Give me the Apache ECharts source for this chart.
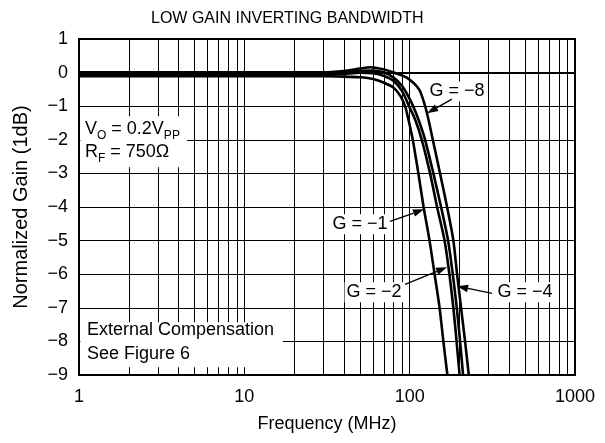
<!DOCTYPE html>
<html><head><meta charset="utf-8">
<script src="https://cdn.jsdelivr.net/npm/echarts@6/dist/echarts.min.js"></script>
<style>html,body{margin:0;padding:0;background:#fff}#c{width:605px;height:443px}</style>
</head><body><div id="c"></div>
<script>
const FONT = '"Liberation Sans", Arial, Helvetica, sans-serif';

// ---- axis ticks ----
const xTicks = [1, 10, 100, 1000];
const yTicks = [-9, -8, -7, -6, -5, -4, -3, -2, -1, 0, 1];
const minorGridFreqs = [2,3,4,5,6,7,8,9,20,30,40,50,60,70,80,90,200,300,400,500,600,700,800,900];

// ---- series data (frequency in MHz, normalized gain in dB) ----
const g1Freq = [1, 10, 30, 40, 50, 60, 70, 80, 88, 93.8, 98.2, 104.4, 112.9, 121.4, 131.9, 141.5, 151.7, 159.9, 169.1];
const g1Gain = [-0.11, -0.11, -0.11, -0.12, -0.14, -0.19, -0.3, -0.45, -0.7, -1.0, -1.39, -2, -3, -4, -5, -6, -7, -8, -9];

const g2Freq = [1, 10, 30, 40, 50, 60, 70, 80, 90, 99.2, 107.8, 118.4, 132.9, 146.5, 162.6, 173.9, 183.8, 192.2, 200.4];
const g2Gain = [-0.07, -0.07, -0.07, -0.04, 0.0, -0.02, -0.1, -0.25, -0.55, -1.0, -1.39, -2, -3, -4, -5, -6, -7, -8, -9];

const g4Freq = [1, 10, 30, 40, 50, 60, 70, 80, 90, 98, 105, 112.9, 124.0, 139.1, 154.9, 170.8, 182.3, 192.7, 201.8, 210.4];
const g4Gain = [-0.03, -0.03, -0.03, 0.0, 0.05, 0.06, 0.0, -0.15, -0.4, -0.7, -1.0, -1.39, -2, -3, -4, -5, -6, -7, -8, -9];

const g8Freq = [1, 10, 30, 40, 50, 58, 69, 80, 96, 114, 124, 129.8, 138.0, 152.7, 168.4, 183.8, 193.5, 204.6, 216.3, 227.8];
const g8Gain = [0.01, 0.01, 0.01, 0.05, 0.12, 0.16, 0.1, 0.0, -0.15, -0.5, -1.0, -1.39, -2, -3, -4, -5, -6, -7, -8, -9];

// ---- annotations (data coordinates) ----
const gLabels    = ['G = −8', 'G = −1', 'G = −2', 'G = −4'];
const gLabelAt   = [[193.6, -0.56], [50.1, -4.51], [60.9, -6.54], [499, -6.54]];
const gArrowFrom = [[180, -0.79], [76.1, -4.43], [93.8, -6.30], [315, -6.57]];
const gArrowTo   = [[127.4, -1.21], [122.2, -4.07], [168.3, -5.79], [193.6, -6.36]];

const noteBoxes = [ [[1.02, -1.30], [4.51, -2.82]], [[1.02, -7.43], [17.1, -8.77]] ];
const noteTexts = [
  {at: [1.087, -1.69], text: '{m|V}{s|O}{m| = 0.2V}{s|PP}'},
  {at: [1.087, -2.375], text: '{m|R}{s|F}{m| = 750Ω}'},
  {at: [1.118, -7.67], text: '{m|External Compensation}'},
  {at: [1.118, -8.39], text: '{m|See Figure 6}'}
];

const zip = (a, b) => a.map((v, i) => [v, b[i]]);
const curveStyle = {color: '#000', width: 2.6};
function curve(name, f, g) {
  return {name, type: 'line', data: zip(f, g), showSymbol: false, smooth: 0.25,
          lineStyle: curveStyle, itemStyle: {color: '#000'}, z: 3};
}

const series = [
  curve('G = −1', g1Freq, g1Gain),
  curve('G = −2', g2Freq, g2Gain),
  curve('G = −4', g4Freq, g4Gain),
  curve('G = −8', g8Freq, g8Gain)
];
series.push({
  type: 'line', data: [], silent: true,
  markLine: {silent: true, symbol: ['none', 'none'], label: {show: false},
    lineStyle: {color: '#000', width: 1, type: 'solid'},
    data: minorGridFreqs.map(v => ({xAxis: v}))}
});

const option = {
  animation: false,
  backgroundColor: '#fff',
  textStyle: {fontFamily: FONT},
  title: {text: 'LOW GAIN INVERTING BANDWIDTH', left: 146, top: 6,
    textStyle: {fontSize: 16, fontWeight: 'normal', color: '#000', fontFamily: FONT}},
  grid: {left: 79, right: 30, top: 39, bottom: 68, show: true, borderColor: '#000', borderWidth: 2},
  xAxis: {type: 'log', logBase: 10, min: xTicks[0], max: xTicks[xTicks.length - 1],
    name: 'Frequency (MHz)', nameLocation: 'middle', nameGap: 40,
    nameTextStyle: {fontSize: 18, color: '#000', fontFamily: FONT},
    axisLine: {show: true, lineStyle: {color: '#000', width: 2}},
    axisTick: {show: false},
    axisLabel: {fontSize: 18, color: '#000', margin: 13, fontFamily: FONT, formatter: v => String(v)},
    splitLine: {show: true, lineStyle: {color: '#000', width: 1}}},
  yAxis: {type: 'value', min: yTicks[0], max: yTicks[yTicks.length - 1], interval: 1,
    name: 'Normalized Gain (1dB)', nameLocation: 'middle', nameGap: 48,
    nameTextStyle: {fontSize: 20, color: '#000', fontFamily: FONT},
    axisLine: {show: true, lineStyle: {color: '#000', width: 2}},
    axisTick: {show: false},
    axisLabel: {fontSize: 18, color: '#000', margin: 11, fontFamily: FONT,
      formatter: v => v < 0 ? '−' + Math.abs(v) : String(v)},
    splitLine: {show: true, lineStyle: {color: '#000', width: 1}}},
  series
};

const chart = echarts.init(document.getElementById('c'));
chart.setOption(option);

const px = p => chart.convertToPixel({gridIndex: 0}, p);
const els = [];
noteBoxes.forEach(b => {
  const a = px(b[0]), c = px(b[1]);
  els.push({type: 'rect', z: 50, silent: true,
    shape: {x: a[0], y: a[1], width: c[0] - a[0], height: c[1] - a[1]}, style: {fill: '#fff'}});
});
const rich = {
  m: {fontSize: 18, lineHeight: 24, fontFamily: FONT, fill: '#000'},
  s: {fontSize: 12, lineHeight: 12, verticalAlign: 'bottom', fontFamily: FONT, fill: '#000'}
};
noteTexts.forEach(t => {
  const p = px(t.at);
  els.push({type: 'text', z: 60, silent: true, x: p[0], y: p[1],
    style: {text: t.text, rich, align: 'left', verticalAlign: 'middle', fill: '#000'}});
});
gLabels.forEach((lab, i) => {
  const p = px(gLabelAt[i]), a = px(gArrowFrom[i]), b = px(gArrowTo[i]);
  els.push({type: 'text', z: 60, silent: true, x: p[0], y: p[1],
    style: {text: lab, fontSize: 18, fontFamily: FONT, fill: '#000', align: 'center',
      verticalAlign: 'middle', backgroundColor: '#fff', padding: [1, 2]}});
  const dx = b[0] - a[0], dy = b[1] - a[1], L = Math.hypot(dx, dy);
  const ux = dx / L, uy = dy / L, hl = 11, hw = 3.8;
  const bx = b[0] - ux * hl, by = b[1] - uy * hl;
  els.push({type: 'line', z: 61, silent: true,
    shape: {x1: a[0], y1: a[1], x2: bx, y2: by}, style: {stroke: '#000', lineWidth: 1.3}});
  els.push({type: 'polygon', z: 61, silent: true,
    shape: {points: [[b[0], b[1]], [bx - uy * hw, by + ux * hw], [bx + uy * hw, by - ux * hw]]},
    style: {fill: '#000'}});
});
chart.setOption({graphic: els});
</script>
</body></html>
